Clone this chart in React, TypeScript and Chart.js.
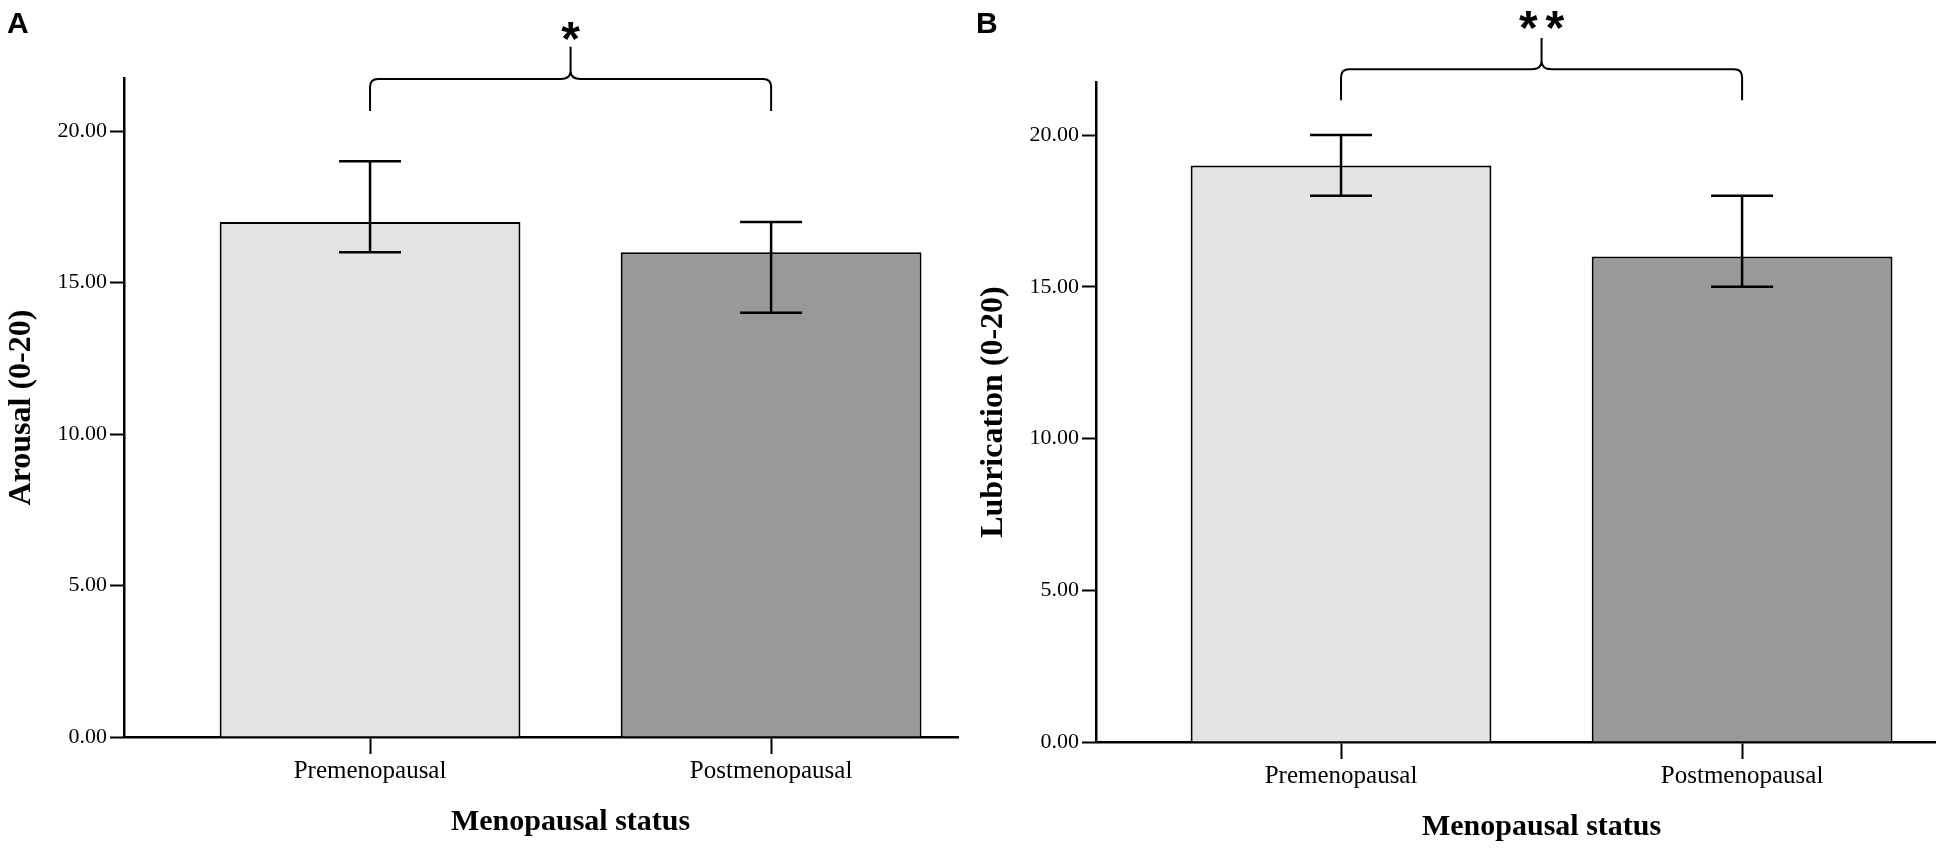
import { useEffect, useRef } from 'react';
import { Chart, registerables, Plugin } from 'chart.js';

Chart.register(...registerables);

const categories = ['Premenopausal', 'Postmenopausal'];
const arousalMeans = [17, 16];
const arousalLower = [16, 14];
const arousalUpper = [19, 17];
const lubricationMeans = [19, 16];
const lubricationLower = [18, 15];
const lubricationUpper = [20, 18];
const yTicks = [0, 5, 10, 15, 20];
const barColors = ['#e3e3e3', '#999999'];

type Bracket = { base: number; level: number; peak: number; label: number; stars: string };

type PanelProps = {
	letter: string;
	yTitle: string;
	means: number[];
	lower: number[];
	upper: number[];
	bracket: Bracket;
	xRange: [number, number];
	width: number;
	height: number;
	top: number;
	bottom: number;
	right: number;
	letterX: number;
};

function overlayPlugin(p: PanelProps): Plugin<'bar'> {
	return {
		id: 'overlay',
		afterDraw(chart) {
			const { ctx, chartArea } = chart;
			const xs = chart.scales.x;
			const ys = chart.scales.y;
			const meta = chart.getDatasetMeta(0);
			ctx.save();
			ctx.strokeStyle = '#000';
			ctx.fillStyle = '#000';

			// error bars
			ctx.lineWidth = 2.5;
			meta.data.forEach((bar: any, i) => {
				const x = bar.x;
				const half = bar.width * 0.103;
				const yLo = ys.getPixelForValue(p.lower[i]);
				const yHi = ys.getPixelForValue(p.upper[i]);
				ctx.beginPath();
				ctx.moveTo(x, yLo);
				ctx.lineTo(x, yHi);
				ctx.moveTo(x - half, yLo);
				ctx.lineTo(x + half, yLo);
				ctx.moveTo(x - half, yHi);
				ctx.lineTo(x + half, yHi);
				ctx.stroke();
			});

			// significance bracket
			const x1 = xs.getPixelForValue(1);
			const x2 = xs.getPixelForValue(categories.length);
			const xm = (x1 + x2) / 2;
			const yb = ys.getPixelForValue(p.bracket.base);
			const yl = ys.getPixelForValue(p.bracket.level);
			const yp = ys.getPixelForValue(p.bracket.peak);
			const r = 8;
			ctx.lineWidth = 2;
			ctx.beginPath();
			ctx.moveTo(x1, yb);
			ctx.lineTo(x1, yl + r);
			ctx.quadraticCurveTo(x1, yl, x1 + r, yl);
			ctx.lineTo(xm - 10, yl);
			ctx.quadraticCurveTo(xm, yl, xm, yl - 8);
			ctx.lineTo(xm, yp);
			ctx.moveTo(xm, yl - 8);
			ctx.quadraticCurveTo(xm, yl, xm + 10, yl);
			ctx.lineTo(x2 - r, yl);
			ctx.quadraticCurveTo(x2, yl, x2, yl + r);
			ctx.lineTo(x2, yb);
			ctx.stroke();

			ctx.font = 'bold 48px "Liberation Sans"';
			ctx.textAlign = 'center';
			ctx.textBaseline = 'alphabetic';
			const m = ctx.measureText('*');
			const yc = ys.getPixelForValue(p.bracket.label);
			const base = yc + (m.actualBoundingBoxAscent - m.actualBoundingBoxDescent) / 2;
			const n = p.bracket.stars.length;
			const step = m.width + 8;
			for (let i = 0; i < n; i++) {
				ctx.fillText('*', xm + (i - (n - 1) / 2) * step, base);
			}

			// x axis title, centred between the categories
			ctx.font = 'bold 30px "Liberation Serif"';
			ctx.fillText('Menopausal status', xm, chartArea.bottom + 93);

			// panel letter
			ctx.font = 'bold 30px "Liberation Sans"';
			ctx.textAlign = 'left';
			ctx.fillText(p.letter, p.letterX, 33);
			ctx.restore();
		},
	};
}

function Panel(p: PanelProps) {
	const ref = useRef<HTMLCanvasElement>(null);

	useEffect(() => {
		if (!ref.current) return;
		const chart = new Chart(ref.current, {
			type: 'bar',
			data: {
				datasets: [
					{
						data: p.means.map((v, i) => ({ x: i + 1, y: v })) as any,
						backgroundColor: barColors,
						borderColor: '#000',
						borderWidth: 2,
						barPercentage: 0.75,
						categoryPercentage: 1,
					},
				],
			},
			options: {
				animation: false,
				responsive: false,
				events: [],
				layout: { padding: { top: p.top, right: p.right, left: 0, bottom: 0 } },
				plugins: { legend: { display: false }, tooltip: { enabled: false } },
				scales: {
					x: {
						type: 'linear',
						min: p.xRange[0],
						max: p.xRange[1],
						offset: false,
						afterBuildTicks: (s) => {
							s.ticks = categories.map((_, i) => ({ value: i + 1 }));
						},
						afterFit: (s) => {
							s.height = p.height - p.bottom;
						},
						ticks: {
							callback: (v) => categories[Number(v) - 1] ?? '',
							font: { size: 25 },
							color: '#000',
							padding: 2,
							maxRotation: 0,
							autoSkip: false,
						},
						grid: { drawOnChartArea: false, drawTicks: true, tickLength: 17, tickColor: '#000', tickWidth: 2, offset: false },
						border: { display: true, color: '#000', width: 2.5 },
					},
					y: {
						min: 0,
						max: 21.75,
						afterBuildTicks: (s) => {
							s.ticks = yTicks.map((v) => ({ value: v }));
						},
						afterFit: (s) => {
							s.width = 124;
						},
						ticks: {
							callback: (v) => Number(v).toFixed(2),
							font: { size: 22 },
							color: '#000',
							padding: 3,
						},
						grid: { drawOnChartArea: false, drawTicks: true, tickLength: 14, tickColor: '#000', tickWidth: 2 },
						border: { display: true, color: '#000', width: 2.5 },
						title: {
							display: true,
							text: p.yTitle,
							font: { size: 32, weight: 'bold' },
							color: '#000',
							padding: { top: 3, bottom: 0 },
						},
					},
				},
			},
			plugins: [overlayPlugin(p)],
		});
		return () => chart.destroy();
	});

	return <canvas ref={ref} width={p.width} height={p.height} style={{ width: p.width, height: p.height, display: 'block' }}></canvas>;
}

export default function App() {
	Chart.defaults.font.family = '"Liberation Serif", "Times New Roman", serif';
	Chart.defaults.color = '#000';

	return (
		<div style={{ position: 'absolute', left: 0, top: 0, width: 1950, height: 853, overflow: 'hidden', background: '#fff' }}>
			<div style={{ position: 'absolute', left: 0, top: 0 }}>
				<Panel
					letter="A"
					yTitle="Arousal (0-20)"
					means={arousalMeans}
					lower={arousalLower}
					upper={arousalUpper}
					bracket={{ base: 20.66, level: 21.72, peak: 22.78, label: 23.3, stars: '*' }}
					xRange={[0.3865, 2.466]}
					width={975}
					height={853}
					top={78}
					bottom={737}
					right={17}
					letterX={7}
				/>
			</div>
			<div style={{ position: 'absolute', left: 972, top: 0 }}>
				<Panel
					letter="B"
					yTitle="Lubrication (0-20)"
					means={lubricationMeans}
					lower={lubricationLower}
					upper={lubricationUpper}
					bracket={{ base: 21.15, level: 22.17, peak: 23.2, label: 23.8, stars: '**' }}
					xRange={[0.389, 2.481]}
					width={978}
					height={853}
					top={82}
					bottom={742}
					right={15}
					letterX={4}
				/>
			</div>
		</div>
	);
}
